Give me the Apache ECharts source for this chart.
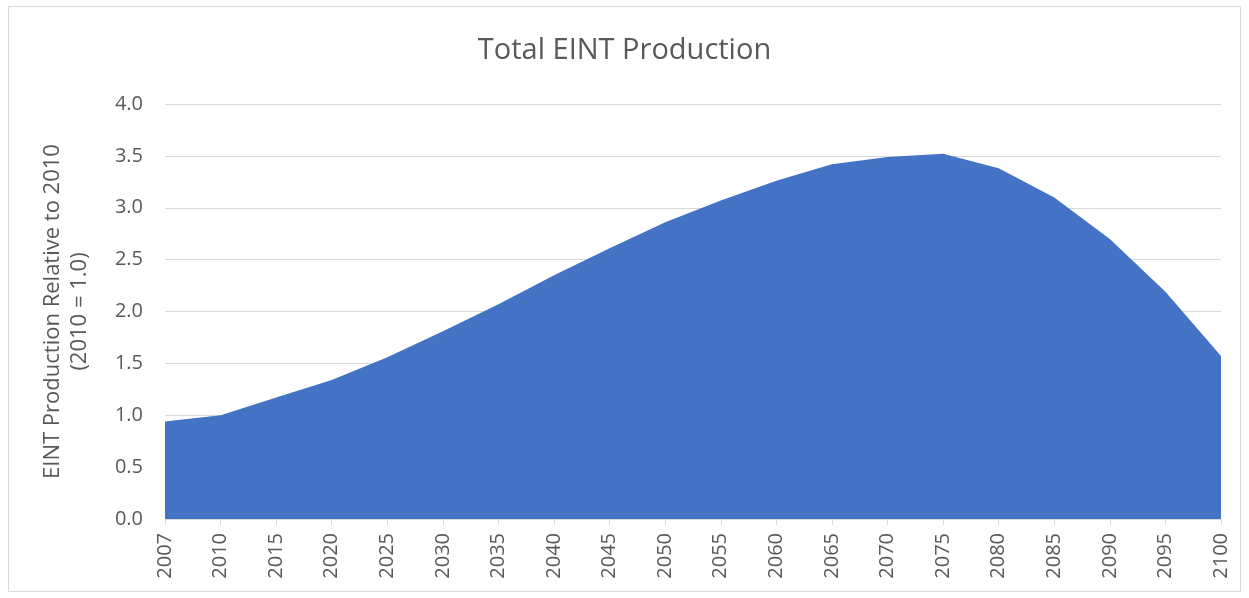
<!DOCTYPE html>
<html><head><meta charset="utf-8">
<script src="https://cdn.jsdelivr.net/npm/echarts@6/dist/echarts.min.js"></script>
<style>html,body{margin:0;padding:0;background:#fff}#c{width:1249px;height:598px}</style>
</head><body><div id="c"></div>
<script>
const years = ['2007','2010','2015','2020','2025','2030','2035','2040','2045','2050','2055','2060','2065','2070','2075','2080','2085','2090','2095','2100'];
const production = [0.94,1.00,1.17,1.34,1.56,1.81,2.07,2.35,2.61,2.86,3.07,3.26,3.42,3.49,3.52,3.38,3.10,2.70,2.19,1.57];
const yTicks = {min:0, max:4, interval:0.5};
const FONT = 'Open Sans';
const chart = echarts.init(document.getElementById('c'), null, {renderer:'canvas'});
chart.setOption({
  animation:false,
  backgroundColor:'#fff',
  title:{text:'Total EINT Production', left:'center', top:31,
    textStyle:{fontFamily:FONT, fontSize:29, fontWeight:'normal', color:'#595959'}},
  graphic:[{type:'rect', shape:{x:8.5,y:6.5,width:1232,height:585}, style:{fill:'none', stroke:'#d9d9d9', lineWidth:1}, silent:true}],
  grid:{left:165, right:28, top:104, bottom:79, containLabel:false},
  xAxis:{type:'category', data:years, boundaryGap:false,
    axisLine:{lineStyle:{color:'#d9d9d9', width:1}},
    axisTick:{show:true, alignWithLabel:true, length:6, lineStyle:{color:'#d9d9d9'}},
    axisLabel:{rotate:90, fontFamily:FONT, fontSize:20, color:'#595959', margin:14, interval:0},
    splitLine:{show:false}},
  yAxis:{type:'value', min:yTicks.min, max:yTicks.max, interval:yTicks.interval,
    name:'EINT Production Relative to 2010\n(2010 = 1.0)', nameLocation:'middle', nameGap:72, nameRotate:90,
    nameTextStyle:{fontFamily:FONT, fontSize:22, color:'#595959', lineHeight:27},
    axisLine:{show:false}, axisTick:{show:false},
    axisLabel:{formatter:v=>v.toFixed(1), fontFamily:FONT, fontSize:20, color:'#595959', margin:22},
    splitLine:{lineStyle:{color:'#d9d9d9', width:1}}},
  series:[{type:'line', data:production, symbol:'none', smooth:false,
    lineStyle:{width:0, color:'#4472C4'},
    areaStyle:{color:'#4472C4', opacity:1}}]
});
</script></body></html>
